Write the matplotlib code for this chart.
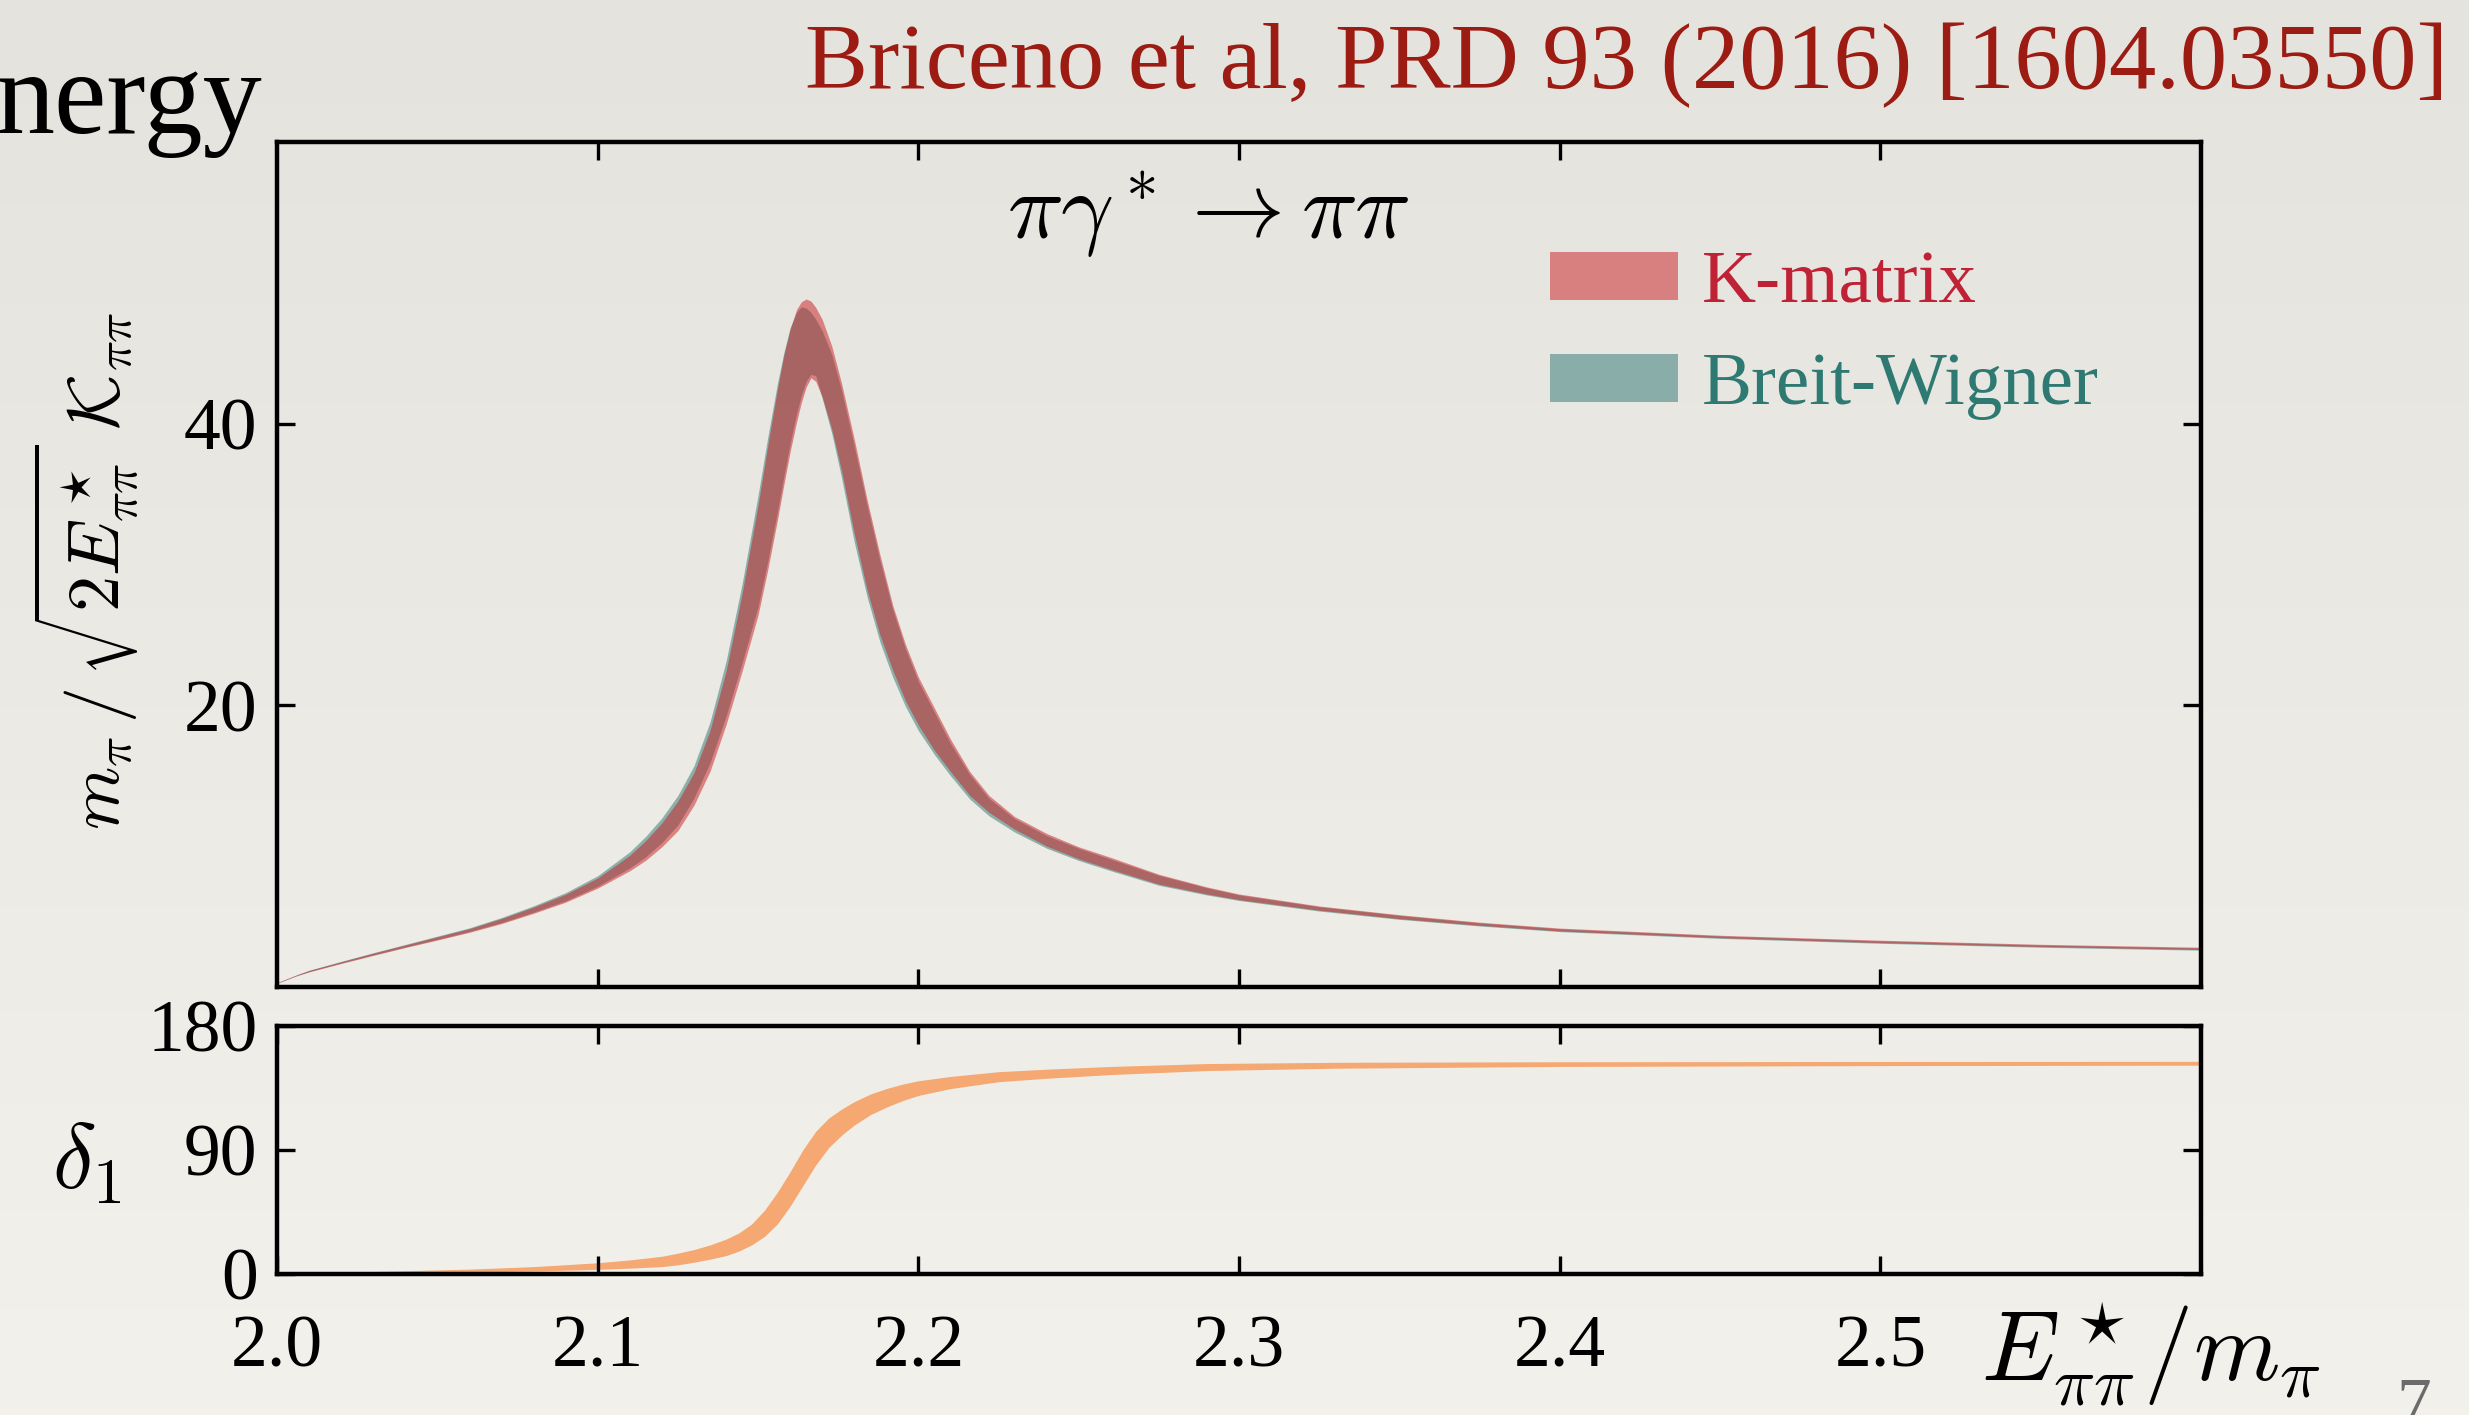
import numpy as np
import matplotlib
matplotlib.use('Agg')
import matplotlib.pyplot as plt
from matplotlib.patches import Patch
from matplotlib.colors import LinearSegmentedColormap

plt.rcParams['font.family'] = 'serif'
plt.rcParams['font.serif'] = ['Liberation Serif', 'DejaVu Serif']
plt.rcParams['mathtext.fontset'] = 'cm'

# --- amplitude bands ---
energy = [2.000, 2.003, 2.006, 2.010, 2.020, 2.030, 2.040, 2.050, 2.060, 2.070,
          2.080, 2.090, 2.100, 2.110, 2.115, 2.120, 2.125, 2.130, 2.135, 2.140,
          2.145, 2.150, 2.153, 2.156, 2.158, 2.160, 2.162, 2.1635, 2.165, 2.1665,
          2.168, 2.170, 2.173, 2.176, 2.180, 2.184, 2.188, 2.192, 2.196, 2.200,
          2.205, 2.210, 2.216, 2.222, 2.230, 2.240, 2.250, 2.260, 2.275, 2.290,
          2.300, 2.325, 2.350, 2.375, 2.400, 2.450, 2.500, 2.550, 2.600]
kmat_hi = [0.30, 0.57, 0.84, 1.17, 1.79, 2.40, 2.98, 3.56, 4.14, 4.86,
           5.67, 6.58, 7.74, 9.35, 10.4, 11.65, 13.2, 15.2, 18.2, 22.4,
           27.9, 34.2, 38.4, 42.4, 44.8, 46.7, 48.1, 48.65, 48.85, 48.7,
           48.25, 47.4, 45.5, 42.9, 38.9, 34.6, 30.7, 27.1, 24.3, 22.0,
           19.8, 17.6, 15.3, 13.6, 12.1, 10.9, 9.95, 9.2, 8.0, 7.1,
           6.6, 5.75, 5.13, 4.6, 4.18, 3.67, 3.32, 3.03, 2.82]
kmat_lo = [0.26, 0.52, 0.78, 1.07, 1.67, 2.24, 2.80, 3.33, 3.88, 4.50,
           5.23, 6.02, 7.02, 8.25, 9.0, 9.95, 11.1, 12.9, 15.3, 18.6,
           22.4, 26.4, 29.6, 33.1, 35.6, 38.0, 40.1, 41.5, 42.6, 43.25,
           43.0, 41.9, 39.6, 36.7, 32.2, 28.2, 25.0, 22.5, 20.3, 18.6,
           16.8, 15.3, 13.6, 12.4, 11.2, 10.0, 9.1, 8.35, 7.3, 6.6,
           6.2, 5.45, 4.85, 4.38, 3.98, 3.50, 3.15, 2.87, 2.66]
bw_hi = [0.31, 0.58, 0.86, 1.19, 1.82, 2.43, 3.02, 3.61, 4.20, 4.93,
         5.76, 6.70, 7.90, 9.60, 10.7, 12.0, 13.6, 15.7, 18.8, 23.1,
         28.6, 34.9, 39.0, 42.8, 45.0, 46.8, 47.9, 48.3, 48.2, 47.9,
         47.4, 46.6, 44.9, 42.4, 38.4, 34.2, 30.3, 26.8, 24.0, 21.7,
         19.5, 17.3, 15.1, 13.4, 11.95, 10.75, 9.85, 9.08, 7.93, 7.04,
         6.54, 5.70, 5.08, 4.55, 4.13, 3.62, 3.27, 2.98, 2.77]
bw_lo = [0.27, 0.53, 0.80, 1.09, 1.70, 2.28, 2.84, 3.38, 3.94, 4.57,
         5.31, 6.12, 7.15, 8.45, 9.25, 10.25, 11.5, 13.4, 15.9, 19.2,
         23.0, 27.0, 30.2, 33.7, 36.2, 38.6, 40.7, 42.0, 43.0, 43.5,
         43.4, 41.8, 39.3, 36.2, 31.6, 27.7, 24.5, 22.0, 19.9, 18.2,
         16.5, 15.0, 13.35, 12.15, 11.0, 9.85, 8.98, 8.25, 7.22, 6.53,
         6.14, 5.39, 4.80, 4.33, 3.93, 3.45, 3.10, 2.82, 2.61]

# --- phase shift band (degrees) ---
phase_e = [2.000, 2.020, 2.040, 2.060, 2.080, 2.100, 2.110, 2.120, 2.125, 2.130,
           2.135, 2.140, 2.144, 2.148, 2.152, 2.156, 2.160, 2.164, 2.168, 2.172,
           2.176, 2.180, 2.185, 2.190, 2.195, 2.200, 2.210, 2.225, 2.240, 2.260,
           2.290, 2.330, 2.400, 2.500, 2.600]
phase_hi = [0.3, 1.0, 2.0, 3.2, 5.0, 7.8, 9.9, 12.5, 14.8, 17.4,
            20.8, 25.0, 29.5, 36.0, 46.0, 59.0, 74.0, 90.0, 103.5, 113.0,
            119.5, 125.0, 130.5, 134.5, 137.7, 140.2, 143.3, 146.8, 148.6, 150.6,
            152.7, 153.6, 154.0, 154.2, 154.3]
phase_lo = [0.0, 0.2, 0.5, 1.1, 1.8, 3.0, 3.9, 5.0, 6.3, 8.2,
            10.4, 13.0, 16.3, 20.8, 27.0, 36.0, 49.0, 64.0, 79.0, 91.5,
            100.5, 108.0, 115.5, 121.0, 125.7, 129.5, 134.5, 139.5, 142.0, 144.7,
            147.6, 149.3, 150.6, 151.2, 151.5]

RED = '#C81C1F'
TEAL = '#2C7671'
ORANGE = '#F5A872'

fig = plt.figure(figsize=(24.69, 14.15), dpi=100)

# paper-like background
paper = LinearSegmentedColormap.from_list('paper', ['#E5E3DE', '#F3F1EC'])
bg = fig.add_axes([0, 0, 1, 1], zorder=-10)
bg.imshow(np.linspace(0, 1, 256).reshape(-1, 1), aspect='auto', cmap=paper,
          extent=[0, 1, 0, 1])
bg.axis('off')


def style_axes(ax):
    ax.set_facecolor('none')
    ax.tick_params(direction='in', top=True, right=True, length=13, width=2.4,
                   labelsize=53, color='black')
    ax.tick_params(axis='x', pad=30)
    ax.tick_params(axis='y', pad=14)
    for s in ax.spines.values():
        s.set_linewidth(3.2)


# top panel
ax = fig.add_axes([0.1122, 0.3025, 0.7793, 0.5972])
style_axes(ax)
ax.fill_between(energy, bw_lo, bw_hi, color=TEAL, alpha=0.5, lw=0)
ax.fill_between(energy, kmat_lo, kmat_hi, color=RED, alpha=0.5, lw=0)
ax.set_xlim(2.0, 2.6)
ax.set_ylim(0, 60)
ax.set_xticks([2.1, 2.2, 2.3, 2.4, 2.5])
ax.set_yticks([20, 40])
ax.tick_params(labelbottom=False)
ax.text(0.484, 0.914, r'$\pi\gamma^* \to \pi\pi$', transform=ax.transAxes,
        ha='center', va='center', fontsize=67)

handles = [Patch(facecolor=RED, alpha=0.5, lw=0), Patch(facecolor=TEAL, alpha=0.5, lw=0)]
leg = ax.legend(handles, ['K-matrix', 'Breit-Wigner'], loc='upper left',
                bbox_to_anchor=(0.6617, 0.871), frameon=False, fontsize=54,
                handlelength=1.7, handleheight=0.62, handletextpad=0.32,
                labelspacing=0.46, borderpad=0, borderaxespad=0,
                labelcolor=['#BF2235', '#2E7A72'])

# bottom panel
ax2 = fig.add_axes([0.1122, 0.1, 0.7793, 0.1749])
style_axes(ax2)
ax2.fill_between(phase_e, phase_lo, phase_hi, color=ORANGE, lw=0)
ax2.set_xlim(2.0, 2.6)
ax2.set_ylim(0, 180)
ax2.set_xticks([2.0, 2.1, 2.2, 2.3, 2.4, 2.5])
ax2.set_xticklabels(['2.0', '2.1', '2.2', '2.3', '2.4', '2.5'])
ax2.set_yticks([0, 90, 180])

# axis labels and slide text
fig.text(0.0352, 0.5965, r'$m_\pi\,/\,\sqrt{2E^\star_{\pi\pi}}\;\mathcal{K}_{\pi\pi}$',
         rotation=90, ha='center', va='center', fontsize=52)
fig.text(0.0352, 1 - 1165 / 1415, r'$\delta_1$', ha='center', va='center', fontsize=66)
fig.text(0.8023, 0.0431, r'$E^\star_{\pi\pi}/m_\pi$', ha='left', va='center', fontsize=71)
fig.text(2448 / 2469, 1 - 88 / 1415, 'Briceno et al, PRD 93 (2016) [1604.03550]',
         ha='right', va='baseline', fontsize=68, color='#9C1B12')
fig.text(-0.002, 1 - 133 / 1415, 'nergy', ha='left', va='baseline', fontsize=85)
fig.text(2414 / 2469, 1 - 1378 / 1415, '7', ha='center', va='top', fontsize=50,
         color='#6B6B6B')

fig.savefig('out.png', dpi=100)
